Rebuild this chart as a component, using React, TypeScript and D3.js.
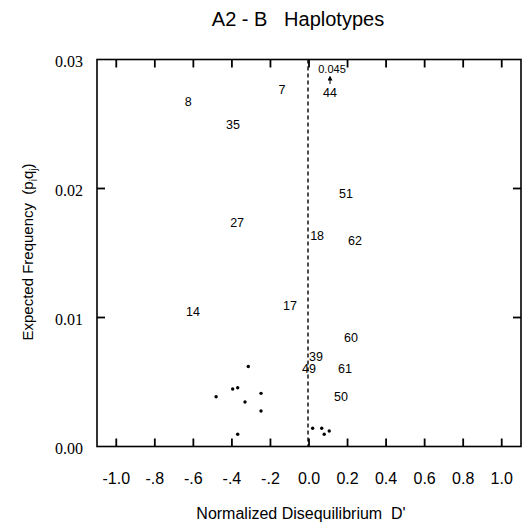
import React from "react";
import * as d3 from "d3";

const labelNames = ["7", "8", "35", "44", "51", "27", "18", "62", "17", "14", "60", "39", "49", "61", "50"];
const labelX = [-0.14, -0.627, -0.394, 0.109, 0.192, -0.373, 0.042, 0.239, -0.099, -0.602, 0.218, 0.036, 0.0, 0.187, 0.166];
const labelY = [0.0276, 0.0267, 0.0249, 0.0274, 0.0196, 0.0173, 0.0163, 0.0159, 0.0109, 0.0104, 0.0084, 0.0069, 0.006, 0.006, 0.0038];

const dotX = [-0.315, -0.396, -0.37, -0.482, -0.249, -0.332, -0.249, -0.37, 0.019, 0.066, 0.105, 0.079];
const dotY = [0.0062, 0.00446, 0.00456, 0.00386, 0.00412, 0.00345, 0.00275, 0.00095, 0.00141, 0.00141, 0.0012, 0.00095];

const xTicks = [-1.0, -0.8, -0.6, -0.4, -0.2, 0.0, 0.2, 0.4, 0.6, 0.8, 1.0];
const xTickLabels = ["-1.0", "-.8", "-.6", "-.4", "-.2", "0.0", "0.2", "0.4", "0.6", "0.8", "1.0"];
const yTicks = [0.0, 0.01, 0.02, 0.03];
const yTickLabels = ["0.00", "0.01", "0.02", "0.03"];

const offChartValue = "0.045";

export default function App() {
  const W = 524, H = 526;
  const x = d3.scaleLinear().domain([-1.1, 1.1]).range([97, 521]);
  const y = d3.scaleLinear().domain([0, 0.03]).range([446.5, 59.5]);
  const sans = "'Liberation Sans', Arial, Helvetica, sans-serif";
  const serif = "'Liberation Serif', 'Times New Roman', serif";
  const [x0, x1] = x.range();
  const [yb, yt] = y.range();
  const tl = 8;
  const idx44 = labelNames.indexOf("44");
  return (
    <svg width={W} height={H} style={{ position: "absolute", left: 0, top: 0, background: "#fff" }}>
      <defs>
        <marker id="ah" viewBox="0 0 6 6" refX="3" refY="3" markerWidth="5" markerHeight="5" orient="auto">
          <path d="M0,0 L6,3 L0,6 z" fill="#000" />
        </marker>
      </defs>
      <text x={298} y={26} textAnchor="middle" fontFamily={sans} fontSize={20} fill="#000">
        A2 - B{"\u00a0\u00a0\u00a0"}Haplotypes
      </text>
      {/* frame */}
      <rect x={x0} y={yt} width={x1 - x0} height={yb - yt} fill="none" stroke="#000" strokeWidth={1.6} />
      {/* x ticks */}
      {xTicks.map((t, i) => (
        <g key={"xt" + i}>
          <line x1={x(t)} x2={x(t)} y1={yb} y2={yb - tl} stroke="#000" strokeWidth={1.8} />
          <line x1={x(t)} x2={x(t)} y1={yt} y2={yt + tl} stroke="#000" strokeWidth={1.8} />
          <text x={x(t)} y={484} textAnchor="middle" fontFamily={sans} fontSize={16} fill="#000">
            {xTickLabels[i]}
          </text>
        </g>
      ))}
      {/* y ticks */}
      {yTicks.map((t, i) => (
        <g key={"yt" + i}>
          {t > 0 && t < 0.03 && (
            <>
              <line x1={x0} x2={x0 + tl} y1={y(t)} y2={y(t)} stroke="#000" strokeWidth={1.8} />
              <line x1={x1} x2={x1 - tl} y1={y(t)} y2={y(t)} stroke="#000" strokeWidth={1.8} />
            </>
          )}
          <text x={83} y={y(t) + 7} textAnchor="end" fontFamily={serif} fontSize={16} fill="#000">
            {yTickLabels[i]}
          </text>
        </g>
      ))}
      {/* dashed zero line */}
      <line x1={x(0) - 1} x2={x(0) - 1} y1={yt} y2={yb} stroke="#000" strokeWidth={1.4} strokeDasharray="4,3" />
      {/* labeled points */}
      {labelNames.map((n, i) => (
        <text key={"l" + i} x={x(labelX[i])} y={y(labelY[i])} textAnchor="middle" dominantBaseline="central"
          fontFamily={sans} fontSize={12.5} fill="#000">
          {n}
        </text>
      ))}
      {/* off-scale annotation for 44 */}
      <text x={x(labelX[idx44]) + 2} y={69} textAnchor="middle" dominantBaseline="central" fontFamily={sans} fontSize={11} fill="#000">
        {offChartValue}
      </text>
      <line x1={x(labelX[idx44])} x2={x(labelX[idx44])} y1={y(labelY[idx44]) - 9} y2={y(labelY[idx44]) - 15}
        stroke="#000" strokeWidth={1} markerEnd="url(#ah)" />
      {/* dots */}
      {dotX.map((v, i) => (
        <circle key={"d" + i} cx={x(v)} cy={y(dotY[i])} r={1.7} fill="#000" />
      ))}
      {/* axis titles */}
      <text x={301} y={519} textAnchor="middle" fontFamily={sans} fontSize={16} fill="#000">
        Normalized Disequilibrium{"\u00a0\u00a0"}D'
      </text>
      <text transform={`translate(33,252) rotate(-90)`} textAnchor="middle" fontFamily={sans} fontSize={15} fill="#000">
        Expected Frequency{"\u00a0\u00a0"}(p
        <tspan fontSize={10} dy={4}>i</tspan>
        <tspan dy={-4}>q</tspan>
        <tspan fontSize={10} dy={4}>j</tspan>
        <tspan dy={-4}>)</tspan>
      </text>
    </svg>
  );
}
